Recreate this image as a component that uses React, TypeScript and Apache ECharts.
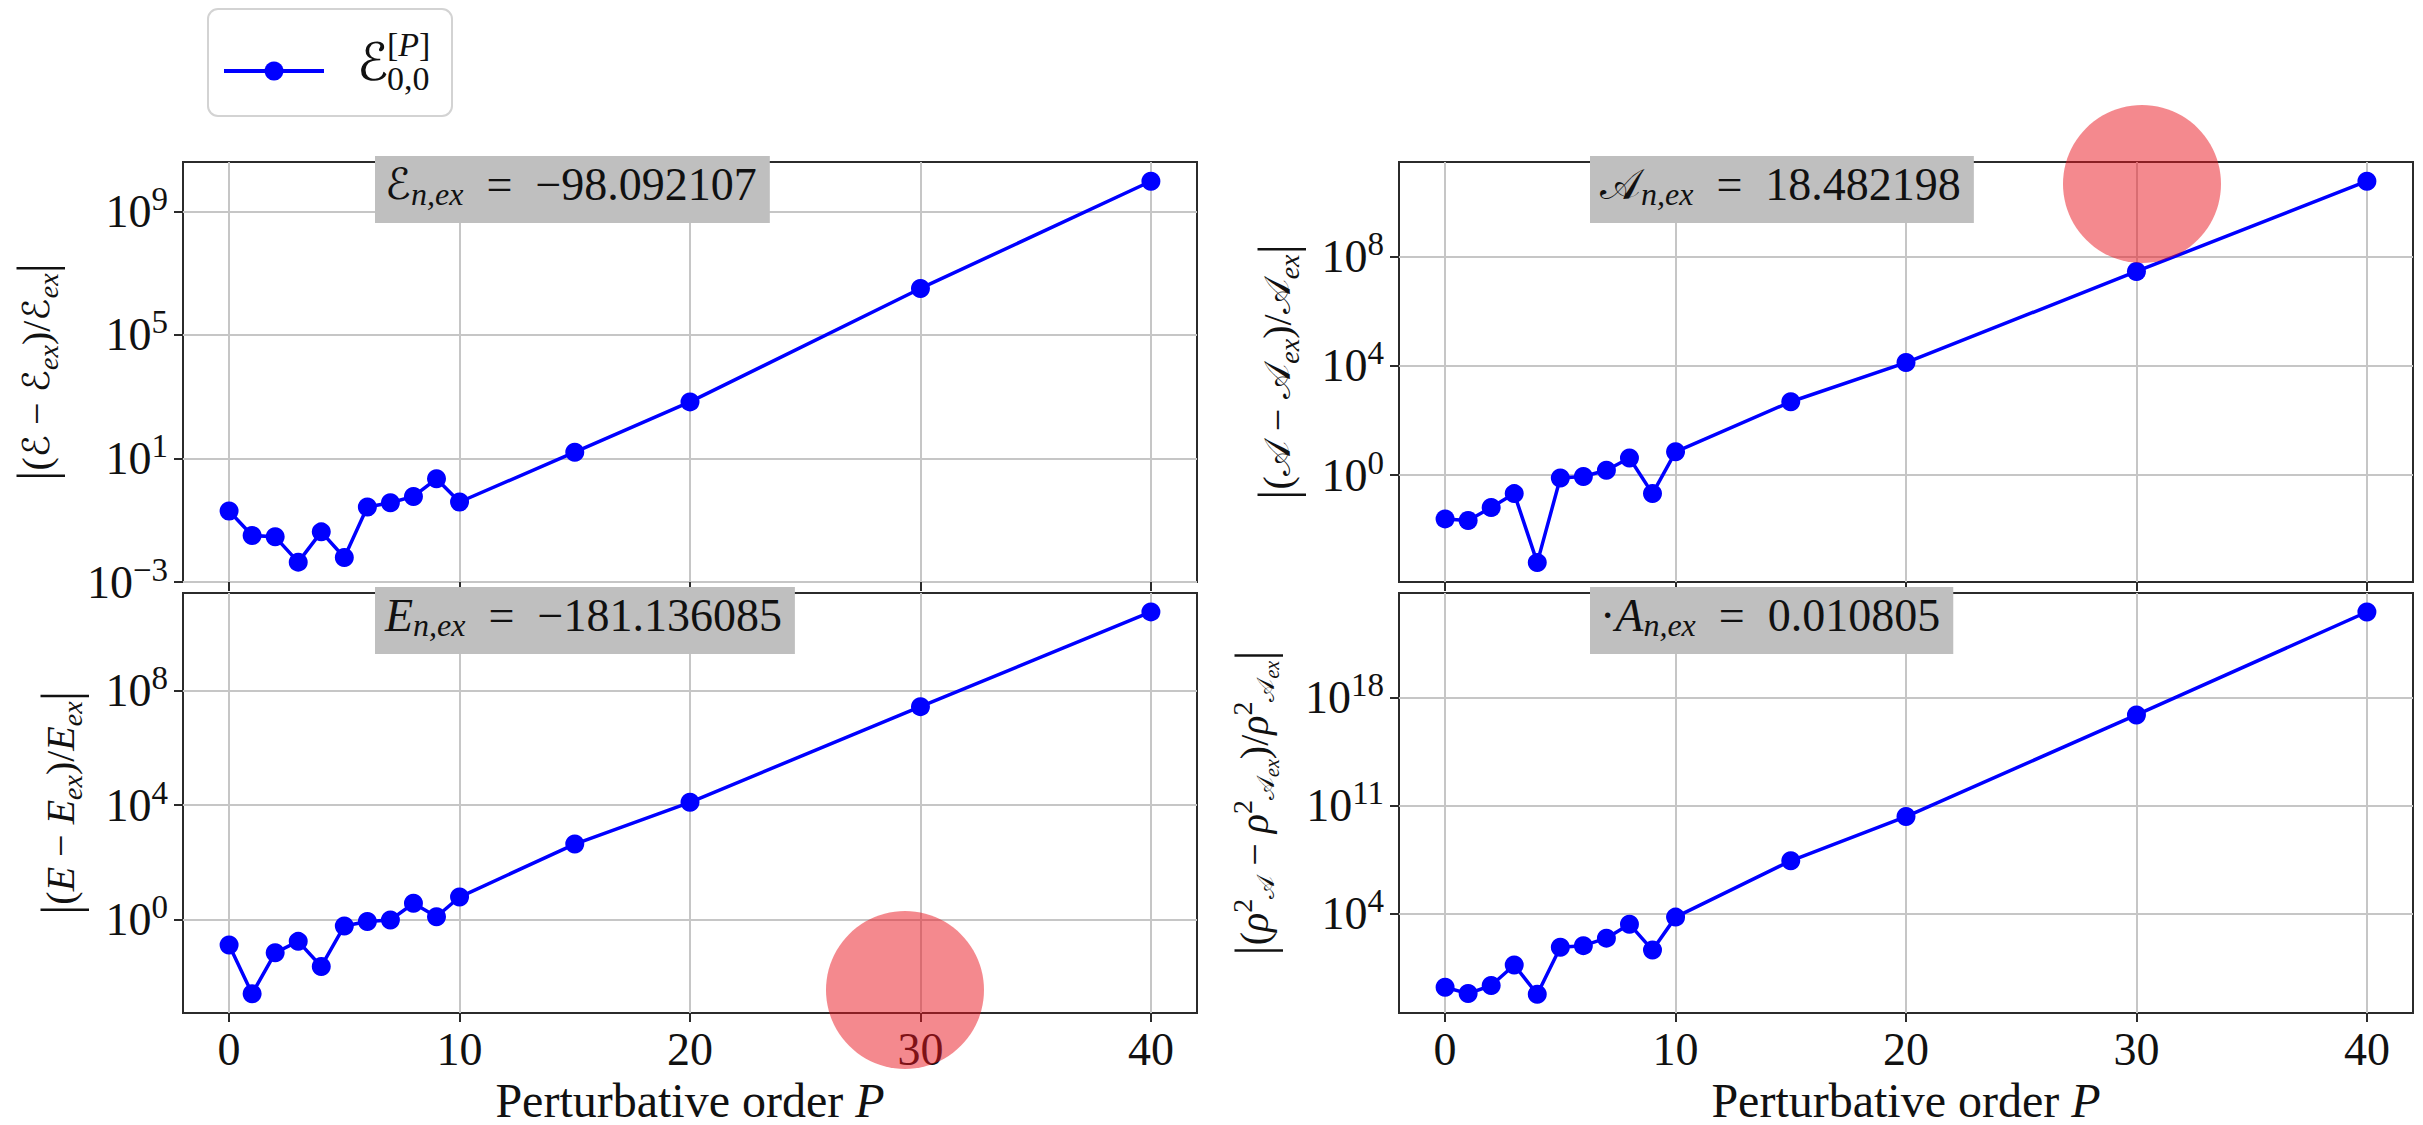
import { useEffect, useRef } from "react";
import * as echarts from "echarts";

// Perturbative orders P at which the relative errors were evaluated
const orders = [0, 1, 2, 3, 4, 5, 6, 7, 8, 9, 10, 15, 20, 30, 40];

// Relative errors (absolute values) for each observable
const energyRelErr = [0.2, 0.032, 0.029, 0.0044, 0.042, 0.0062, 0.27, 0.37, 0.59, 2.2, 0.39, 16, 680, 3.2e6, 9.5e9];
const totalEnergyRelErr = [0.135, 0.0027, 0.072, 0.18, 0.024, 0.62, 0.89, 1.0, 3.8, 1.3, 6.3, 440, 1.26e4, 2.7e7, 5.4e10];
const asymRelErr = [0.025, 0.022, 0.065, 0.21, 6.3e-4, 0.78, 0.89, 1.5, 4.2, 0.21, 7.1, 480, 1.3e4, 2.8e7, 5.6e10];
const rhoRelErr = [0.17, 0.066, 0.22, 4.7, 0.06, 66, 85, 260, 2100, 44, 6000, 2.7e7, 2.0e10, 7.8e16, 3.7e23];

// Tick positions: x in P, y in decades (log10)
const xTicks = [0, 10, 20, 30, 40];
const energyDecades = [-3, 1, 5, 9];
const totalEnergyDecades = [0, 4, 8];
const asymDecades = [0, 4, 8];
const rhoDecades = [4, 11, 18];

// Exact reference values shown in each panel (en spaces give the "=" math spacing)
const exactTexts = [
  "{c|ℰ}{s|n,ex}{a|\u2002=\u2002−98.092107}",
  "{i|E}{s|n,ex}{a|\u2002=\u2002−181.136085}",
  "{c|𝒜}{s|n,ex}{a|\u2002=\u200218.482198}",
  "{a|·}{i|A}{s|n,ex}{a|\u2002=\u20020.010805}",
];

const SERIF = "'Liberation Serif', 'DejaVu Serif', serif";
const CAL = "'DejaVu Serif', 'DejaVu Sans', serif";
const INK = "#111111";
const SPINE = "#2b2b2b";
const GRIDLINE = "#c6c6c6";
const BLUE = "#0000ff";

const tickRich = {
  b: { fontFamily: SERIF, fontSize: 46, fontWeight: "normal", lineHeight: 60, color: INK },
  p: { fontFamily: SERIF, fontSize: 33, fontWeight: "normal", lineHeight: 34, padding: [0, 0, 25, 0], color: INK },
};

const nameRich = {
  n: { fontFamily: SERIF, fontSize: 40, fontWeight: "normal", lineHeight: 60, color: INK },
  bar: { fontFamily: SERIF, fontSize: 52, fontWeight: "normal", lineHeight: 60, color: INK },
  i: { fontFamily: SERIF, fontSize: 40, fontWeight: "normal", fontStyle: "italic", lineHeight: 60, color: INK },
  c: { fontFamily: CAL, fontSize: 37, fontWeight: "normal", lineHeight: 60, color: INK },
  s: { fontFamily: SERIF, fontSize: 28, fontWeight: "normal", fontStyle: "italic", lineHeight: 30, padding: [24, 0, 0, 0], color: INK },
  sc: { fontFamily: CAL, fontSize: 24, fontWeight: "normal", lineHeight: 30, padding: [24, 0, 0, 0], color: INK },
  p: { fontFamily: SERIF, fontSize: 28, fontWeight: "normal", lineHeight: 30, padding: [0, 0, 24, 0], color: INK },
  ss: { fontFamily: SERIF, fontSize: 20, fontWeight: "normal", fontStyle: "italic", lineHeight: 22, padding: [36, 0, 0, 0], color: INK },
};

const boxRich = {
  a: { fontFamily: SERIF, fontSize: 46, fontWeight: "normal", lineHeight: 54, color: INK },
  i: { fontFamily: SERIF, fontSize: 46, fontWeight: "normal", fontStyle: "italic", lineHeight: 54, color: INK },
  c: { fontFamily: CAL, fontSize: 43, fontWeight: "normal", lineHeight: 54, color: INK },
  s: { fontFamily: SERIF, fontSize: 32, fontWeight: "normal", fontStyle: "italic", lineHeight: 34, padding: [20, 0, 0, 0], color: INK },
};

const xNameRich = {
  r: { fontFamily: SERIF, fontSize: 48, fontWeight: "normal", lineHeight: 48, color: INK },
  i: { fontFamily: SERIF, fontSize: 48, fontWeight: "normal", fontStyle: "italic", lineHeight: 48, color: INK },
};

const yNames = [
  "{bar||}{n|(}{c|ℰ}{n| − }{c|ℰ}{s|ex}{n|)/}{c|ℰ}{s|ex}{bar||}",
  "{bar||}{n|(}{i|E}{n| − }{i|E}{s|ex}{n|)/}{i|E}{s|ex}{bar||}",
  "{bar||}{n|(}{c|𝒜}{n| − }{c|𝒜}{s|ex}{n|)/}{c|𝒜}{s|ex}{bar||}",
  "{bar||}{n|(}{i|ρ}{p|2}{sc|𝒜}{n| − }{i|ρ}{p|2}{sc|𝒜}{ss|ex}{n|)/}{i|ρ}{p|2}{sc|𝒜}{ss|ex}{bar||}",
];

const PLOT_W = 1014;
const PLOT_H = 420;

const panels = [
  { left: 183, top: 162, values: energyRelErr, yMin: -3, yMax: 10.6, decades: energyDecades, bottom: false, nameGap: 117, box: { left: 375, top: 155 } },
  { left: 183, top: 593, values: totalEnergyRelErr, yMin: -3.24, yMax: 11.39, decades: totalEnergyDecades, bottom: true, nameGap: 93, box: { left: 375, top: 586 } },
  { left: 1399, top: 162, values: asymRelErr, yMin: -3.91, yMax: 11.45, decades: asymDecades, bottom: false, nameGap: 92, box: { left: 1590, top: 155 } },
  { left: 1399, top: 593, values: rhoRelErr, yMin: -2.44, yMax: 24.8, decades: rhoDecades, bottom: true, nameGap: 115, box: { left: 1590, top: 586 } },
];

const decadeLabel = (v: number) => {
  const e = Math.round(v);
  return `{b|10}{p|${e < 0 ? "−" + Math.abs(e) : e}}`;
};

function buildOption() {
  return {
    animation: false,
    backgroundColor: "#ffffff",
    title: panels.map((p, k) => ({
      text: exactTexts[k],
      left: p.box.left,
      top: p.box.top,
      padding: [2, 13, 13, 10],
      backgroundColor: "#bfbfbf",
      textStyle: { fontFamily: SERIF, fontSize: 46, fontWeight: "normal", color: INK, rich: boxRich },
    })),
    grid: panels.map((p) => ({
      left: p.left,
      top: p.top,
      width: PLOT_W,
      height: PLOT_H,
      show: true,
      borderColor: SPINE,
      borderWidth: 2,
      backgroundColor: "transparent",
    })),
    xAxis: panels.map((p, k) => ({
      type: "value",
      gridIndex: k,
      position: "bottom",
      min: -2,
      max: 42,
      axisLine: { show: false, onZero: false },
      axisTick: { show: true, customValues: xTicks, length: 9, inside: false, lineStyle: { color: SPINE, width: 2 } },
      axisLabel: {
        show: p.bottom,
        customValues: xTicks,
        margin: 13,
        fontFamily: SERIF,
        fontSize: 46,
        fontWeight: "normal",
        lineHeight: 46,
        color: INK,
      },
      splitLine: { show: true, lineStyle: { color: GRIDLINE, width: 2 } },
      name: p.bottom ? "{r|Perturbative order }{i|P}" : "",
      nameLocation: "middle",
      nameGap: 63,
      nameTextStyle: { rich: xNameRich },
    })),
    yAxis: panels.map((p, k) => ({
      type: "value",
      gridIndex: k,
      position: "left",
      min: p.yMin,
      max: p.yMax,
      axisLine: { show: false, onZero: false },
      axisTick: { show: true, customValues: p.decades, length: 9, inside: false, lineStyle: { color: SPINE, width: 2 } },
      axisLabel: {
        customValues: p.decades,
        margin: 15,
        formatter: decadeLabel,
        rich: tickRich,
      },
      splitLine: { show: true, lineStyle: { color: GRIDLINE, width: 2 } },
      name: yNames[k],
      nameLocation: "middle",
      nameRotate: 90,
      nameGap: p.nameGap,
      nameTextStyle: { rich: nameRich },
    })),
    series: panels.map((p, k) => ({
      type: "line",
      name: "E00",
      xAxisIndex: k,
      yAxisIndex: k,
      data: orders.map((o, j) => [o, Math.log10(p.values[j])]),
      symbol: "circle",
      symbolSize: 19,
      lineStyle: { color: BLUE, width: 3.5 },
      itemStyle: { color: BLUE },
      z: 3,
    })),
    graphic: [
      {
        type: "group",
        children: [
          {
            type: "rect",
            shape: { x: 208, y: 9, width: 244, height: 107, r: 10 },
            style: { fill: "#ffffff", stroke: "#d3d3d3", lineWidth: 2 },
          },
          { type: "line", shape: { x1: 224, y1: 71, x2: 324, y2: 71 }, style: { stroke: BLUE, lineWidth: 4 } },
          { type: "circle", shape: { cx: 274, cy: 71, r: 9.5 }, style: { fill: BLUE } },
          {
            type: "text",
            x: 357,
            y: 62,
            style: { text: "ℰ", font: `52px ${CAL}`, fill: INK, verticalAlign: "middle", textVerticalAlign: "middle" },
          },
          {
            type: "text",
            x: 387,
            y: 44,
            style: {
              text: "{r|[}{i|P}{r|]}",
              fill: INK,
              verticalAlign: "middle",
              textVerticalAlign: "middle",
              rich: {
                r: { fontFamily: SERIF, fontSize: 34, color: INK },
                i: { fontFamily: SERIF, fontSize: 34, fontStyle: "italic", color: INK },
              },
            },
          },
          {
            type: "text",
            x: 387,
            y: 78,
            style: { text: "0,0", font: `34px ${SERIF}`, fill: INK, verticalAlign: "middle", textVerticalAlign: "middle" },
          },
        ],
      },
      { type: "circle", z: 100, shape: { cx: 2142, cy: 184, r: 79 }, style: { fill: "rgba(234, 20, 30, 0.5)" } },
      { type: "circle", z: 100, shape: { cx: 905, cy: 990, r: 79 }, style: { fill: "rgba(234, 20, 30, 0.5)" } },
    ],
  };
}

export default function App() {
  const ref = useRef<HTMLDivElement>(null);
  useEffect(() => {
    if (!ref.current) return;
    const chart = echarts.init(ref.current, undefined, { renderer: "svg" });
    chart.setOption(buildOption() as any);
    return () => chart.dispose();
  }, []);
  return (
    <div
      ref={ref}
      style={{ position: "absolute", left: 0, top: 0, width: 2423, height: 1125, background: "#ffffff" }}
    />
  );
}
